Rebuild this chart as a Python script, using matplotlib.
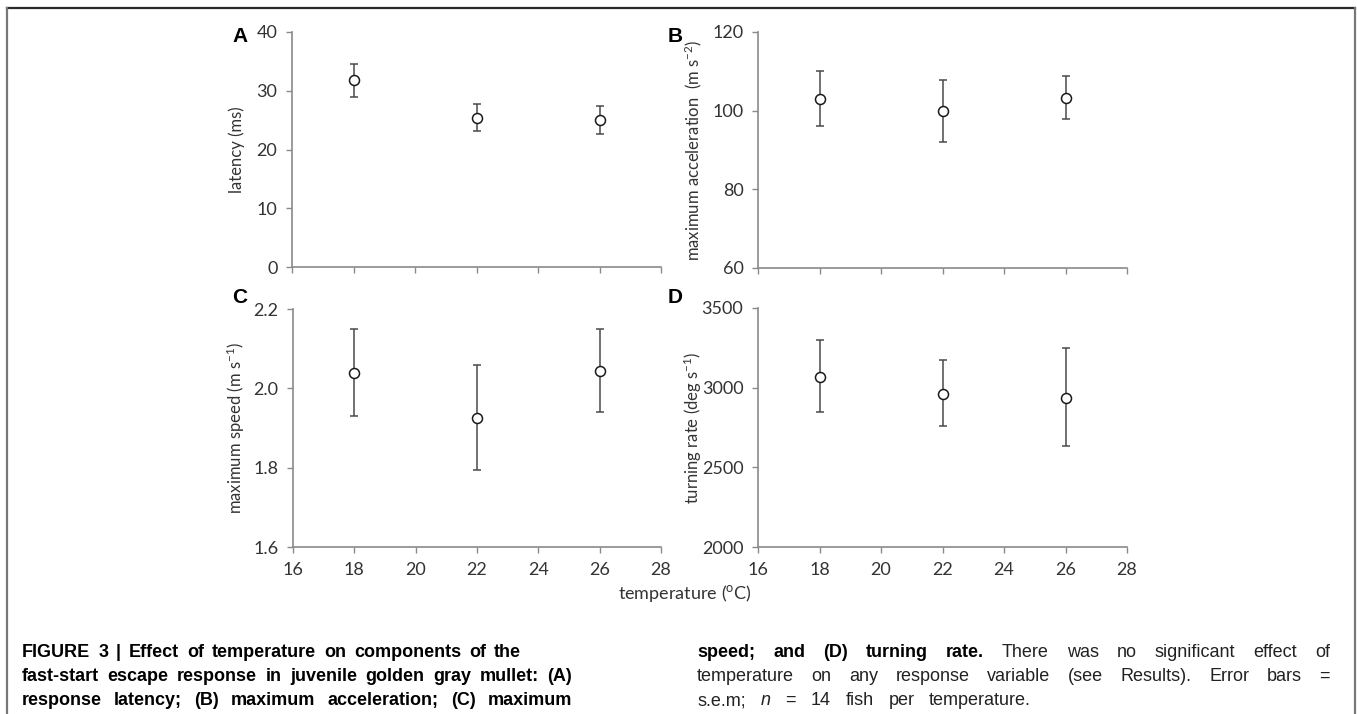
import numpy as np
import matplotlib
matplotlib.use("Agg")
import matplotlib.pyplot as plt
from matplotlib.lines import Line2D

plt.rcParams['font.family'] = ['Lato', 'DejaVu Sans']
plt.rcParams['mathtext.fontset'] = 'custom'
plt.rcParams['mathtext.rm'] = 'Lato'
plt.rcParams['mathtext.default'] = 'regular'

W, H = 1357, 714
DPI = 100

# data
temps = [18, 22, 26]
latency = [31.8, 25.4, 25.0]
latency_lo = [29.0, 23.2, 22.6]
latency_hi = [34.6, 27.7, 27.4]
accel = [103.0, 99.8, 103.3]
accel_lo = [96.2, 92.1, 98.0]
accel_hi = [110.0, 107.8, 108.7]
speed = [2.039, 1.925, 2.044]
speed_lo = [1.929, 1.793, 1.941]
speed_hi = [2.150, 2.058, 2.150]
turn = [3068, 2962, 2937]
turn_lo = [2848, 2760, 2635]
turn_hi = [3297, 3171, 3247]

xticks = [16, 18, 20, 22, 24, 26, 28]

panels = [
    dict(letter='A', pos=(292, 32, 661, 267), y=latency, lo=latency_lo, hi=latency_hi,
         ylim=(0, 40), yticks=[0, 10, 20, 30, 40], fmt='{:.0f}',
         ylabel='latency (ms)', labx=-0.127, xlabels=False),
    dict(letter='B', pos=(758, 32, 1127, 268), y=accel, lo=accel_lo, hi=accel_hi,
         ylim=(60, 120), yticks=[60, 80, 100, 120], fmt='{:.0f}',
         ylabel='maximum acceleration  (m s$^{-2}$)', labx=-0.146, xlabels=False),
    dict(letter='C', pos=(293, 309, 661, 547), y=speed, lo=speed_lo, hi=speed_hi,
         ylim=(1.6, 2.2), yticks=[1.6, 1.8, 2.0, 2.2], fmt='{:.1f}',
         ylabel='maximum speed (m s$^{-1}$)', labx=-0.125, xlabels=True),
    dict(letter='D', pos=(758, 308, 1127, 547), y=turn, lo=turn_lo, hi=turn_hi,
         ylim=(2000, 3500), yticks=[2000, 2500, 3000, 3500], fmt='{:.0f}',
         ylabel='turning rate (deg s$^{-1}$)', labx=-0.146, xlabels=True),
]

fig = plt.figure(figsize=(W / DPI, H / DPI), dpi=DPI)
axcol = '#8a8a8a'
txtcol = '#333333'
fs = 13

for p in panels:
    x0, y0, x1, y1 = p['pos']
    ax = fig.add_axes([x0 / W, 1 - y1 / H, (x1 - x0) / W, (y1 - y0) / H])
    y = np.array(p['y'])
    err = [y - np.array(p['lo']), np.array(p['hi']) - y]
    ax.errorbar(temps, y, yerr=err, fmt='o', ms=7.2, mfc='white', mec='#1a1a1a',
                mew=1.1, ecolor='#4a4a4a', elinewidth=1.1, capsize=2.6, capthick=1.1,
                zorder=3)
    ax.set_xlim(16, 28)
    ax.set_ylim(*p['ylim'])
    ax.set_xticks(xticks)
    ax.set_yticks(p['yticks'])
    ax.set_yticklabels([p['fmt'].format(v) for v in p['yticks']])
    if not p['xlabels']:
        ax.set_xticklabels([])
    for s in ['top', 'right']:
        ax.spines[s].set_visible(False)
    for s in ['left', 'bottom']:
        ax.spines[s].set_color(axcol)
        ax.spines[s].set_linewidth(1.2)
    ax.tick_params(direction='out', length=4.5, width=1, color=axcol,
                   labelsize=fs, labelcolor=txtcol, pad=6)
    ax.set_ylabel(p['ylabel'], fontsize=12, color=txtcol)
    ax.yaxis.set_label_coords(p['labx'], 0.5)
    ax.patch.set_alpha(0)

letters = [('A', 240, 36), ('B', 675, 36), ('C', 240, 297), ('D', 675, 297)]
for t, lx, ly in letters:
    fig.text(lx / W, 1 - ly / H, t, fontsize=15, fontweight='bold',
             family='Liberation Sans', ha='center', va='center')

fig.text(685 / W, 1 - 593 / H, 'temperature ($^{o}$C)', fontsize=fs,
         color=txtcol, ha='center', va='center')

# frame around the figure
fig.add_artist(Line2D([7 / W, 1355 / W], [1 - 8 / H, 1 - 8 / H], color='#2a2a2a', lw=1.6))
fig.add_artist(Line2D([7 / W, 7 / W], [0, 1 - 8 / H], color='#777777', lw=1.6))
fig.add_artist(Line2D([1355 / W, 1355 / W], [0, 1 - 8 / H], color='#777777', lw=1.6))

# caption, justified word by word
cap_font = ['Liberation Sans Narrow', 'Liberation Sans', 'DejaVu Sans']
B_, N_, I_ = 'bold', 'normal', 'italic'
cap_lines = [
    (22, 521, 657, [('FIGURE', B_), ('3', B_), ('|', B_), ('Effect', B_), ('of', B_),
                    ('temperature', B_), ('on', B_), ('components', B_), ('of', B_), ('the', B_)]),
    (22, 572, 681, [('fast-start', B_), ('escape', B_), ('response', B_), ('in', B_),
                    ('juvenile', B_), ('golden', B_), ('gray', B_), ('mullet:', B_), ('(A)', B_)]),
    (22, 572, 705, [('response', B_), ('latency;', B_), ('(B)', B_), ('maximum', B_),
                    ('acceleration;', B_), ('(C)', B_), ('maximum', B_)]),
    (697, 1330, 657, [('speed;', B_), ('and', B_), ('(D)', B_), ('turning', B_), ('rate.', B_),
                      ('There', N_), ('was', N_), ('no', N_), ('significant', N_),
                      ('effect', N_), ('of', N_)]),
    (697, 1330, 681, [('temperature', N_), ('on', N_), ('any', N_), ('response', N_),
                      ('variable', N_), ('(see', N_), ('Results).', N_), ('Error', N_),
                      ('bars', N_), ('=', N_)]),
    (697, 1031, 705, [('s.e.m;', N_), ('n', I_), ('=', N_), ('14', N_), ('fish', N_),
                      ('per', N_), ('temperature.', N_)]),
]

renderer = fig.canvas.get_renderer()
for x0, x1, yb, words in cap_lines:
    arts = []
    for w, st in words:
        t = fig.text(0, 1 - yb / H, w, fontsize=13, family=cap_font, va='baseline',
                     fontweight='bold' if st == B_ else 'normal',
                     fontstyle='italic' if st == I_ else 'normal',
                     color='black' if st == B_ else '#222222')
        arts.append(t)
    widths = [a.get_window_extent(renderer).width for a in arts]
    gap = (x1 - x0 - sum(widths)) / (len(arts) - 1)
    x = x0
    for a, wd in zip(arts, widths):
        a.set_x(x / W)
        x += wd + gap

fig.savefig('out.png', dpi=DPI)
